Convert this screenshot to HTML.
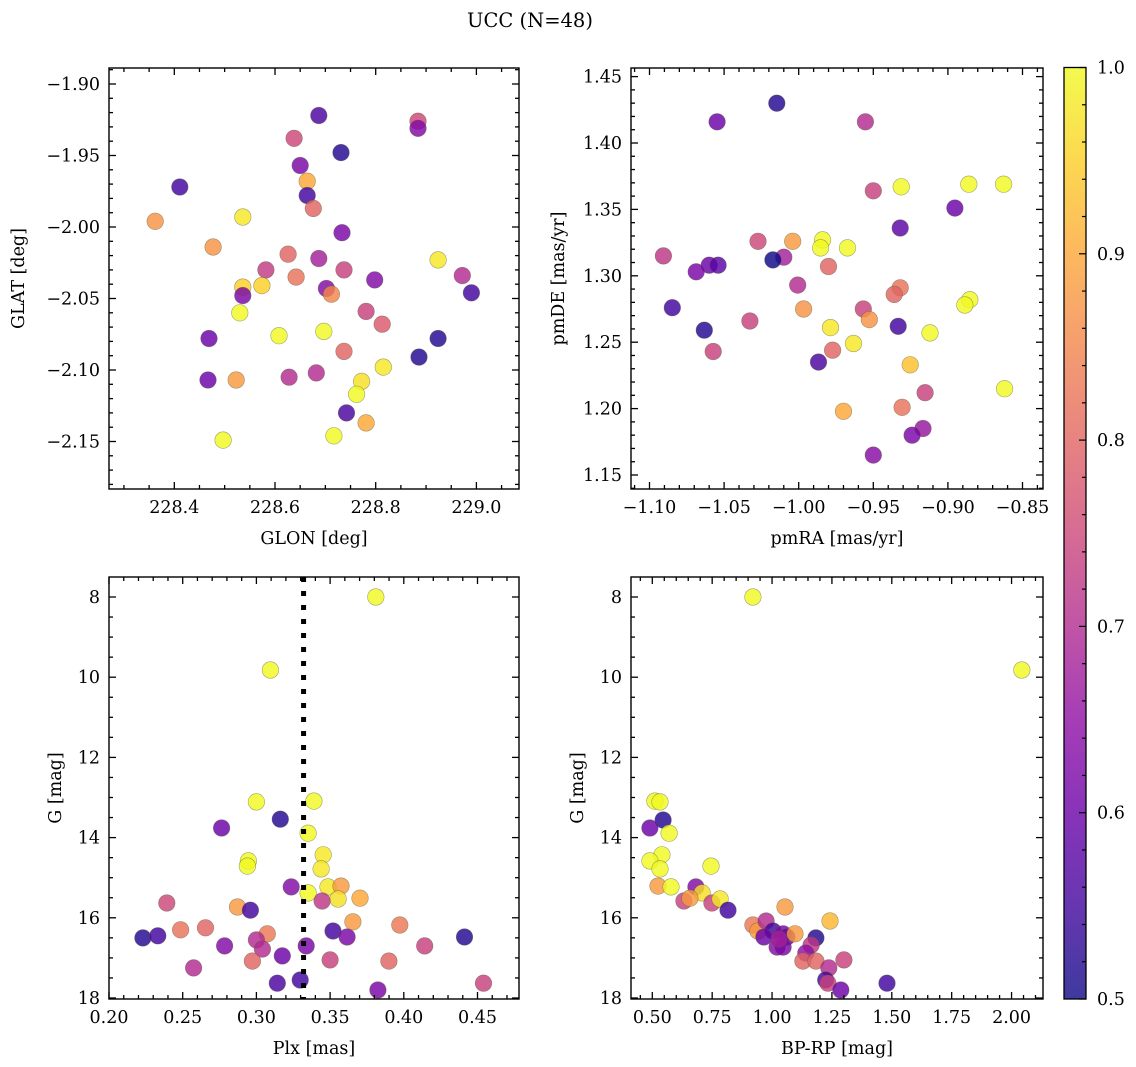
<!DOCTYPE html>
<html><head><meta charset="utf-8"><title>UCC (N=48)</title>
<style>
html,body{margin:0;padding:0;background:#fff;}
svg{display:block;font-family:"DejaVu Serif","Liberation Serif",serif;}
</style></head>
<body>
<svg id="fig" width="1136" height="1067" viewBox="0 0 1136 1067" xmlns="http://www.w3.org/2000/svg">
<defs>
<linearGradient id="cbgrad" x1="0" y1="1" x2="0" y2="0">
<stop offset="0" stop-color="#0d0887"/><stop offset="0.1" stop-color="#41049d"/><stop offset="0.2" stop-color="#6a00a8"/><stop offset="0.3" stop-color="#8f0da4"/><stop offset="0.4" stop-color="#b12a90"/><stop offset="0.5" stop-color="#cc4778"/><stop offset="0.6" stop-color="#e16462"/><stop offset="0.7" stop-color="#f2844b"/><stop offset="0.8" stop-color="#fca636"/><stop offset="0.9" stop-color="#fcce25"/><stop offset="1" stop-color="#f0f921"/>
</linearGradient>
</defs>
<text x="530" y="27" text-anchor="middle" font-size="19.5">UCC (N=48)</text>
</svg>
<script>
// ---- Panel 1: GLON vs GLAT ----
const p1x=[228.362,228.411,228.477,228.536,228.638,228.650,228.664,228.664,228.676,228.687,228.731,228.884,228.884,228.733,228.626,228.582,228.687,228.642,228.737,228.798,228.924,228.972,228.990,228.536,228.574,228.536,228.702,228.712,228.530,228.608,228.697,228.781,228.813,228.469,228.737,228.924,228.886,228.815,228.467,228.523,228.628,228.682,228.772,228.762,228.742,228.781,228.497,228.717];
const p1y=[-1.996,-1.972,-2.014,-1.993,-1.938,-1.957,-1.968,-1.978,-1.987,-1.922,-1.948,-1.926,-1.931,-2.004,-2.019,-2.030,-2.022,-2.035,-2.030,-2.037,-2.023,-2.034,-2.046,-2.042,-2.041,-2.048,-2.043,-2.047,-2.060,-2.076,-2.073,-2.059,-2.068,-2.078,-2.087,-2.078,-2.091,-2.098,-2.107,-2.107,-2.105,-2.102,-2.108,-2.117,-2.130,-2.137,-2.149,-2.146];
const p1c=[0.87,0.55,0.87,0.98,0.75,0.62,0.9,0.55,0.8,0.56,0.52,0.75,0.63,0.62,0.8,0.73,0.68,0.82,0.74,0.63,0.98,0.7,0.55,0.95,0.95,0.62,0.63,0.85,1.0,1.0,1.0,0.74,0.78,0.6,0.8,0.52,0.52,0.98,0.6,0.88,0.7,0.7,0.97,1.0,0.56,0.9,1.0,1.0];
// ---- Panel 2: pmRA vs pmDE ----
const p2x=[-1.0147,-1.0547,-0.9553,-0.950,-0.9313,-0.886,-0.8627,-0.8953,-0.932,-1.0273,-1.004,-0.984,-0.9853,-0.9673,-1.0907,-1.010,-1.0173,-1.060,-1.054,-1.0687,-0.980,-1.0007,-0.932,-0.936,-0.8853,-0.8887,-1.0847,-0.9967,-0.9567,-0.9527,-1.0327,-0.9787,-0.9333,-1.0633,-0.912,-0.9633,-0.9773,-1.0573,-0.9867,-0.9253,-0.862,-0.9153,-0.970,-0.9307,-0.9167,-0.924,-0.950];
const p2y=[1.430,1.416,1.416,1.364,1.367,1.369,1.369,1.351,1.336,1.326,1.326,1.327,1.321,1.321,1.315,1.314,1.312,1.308,1.308,1.303,1.307,1.293,1.291,1.286,1.282,1.278,1.276,1.275,1.275,1.267,1.266,1.261,1.262,1.259,1.257,1.249,1.244,1.243,1.235,1.233,1.215,1.212,1.198,1.201,1.185,1.180,1.165];
const p2c=[0.52,0.6,0.7,0.74,1.0,1.0,1.0,0.6,0.58,0.75,0.88,1.0,1.0,1.0,0.72,0.68,0.5,0.6,0.58,0.62,0.8,0.7,0.82,0.8,1.0,1.0,0.55,0.87,0.74,0.87,0.74,0.98,0.55,0.52,1.0,0.98,0.8,0.74,0.56,0.93,1.0,0.74,0.9,0.82,0.66,0.62,0.64];
// ---- Panel 3: Plx vs G ----
const p3x=[0.381,0.3095,0.300,0.339,0.3162,0.2764,0.3351,0.3453,0.2946,0.2939,0.3439,0.3236,0.3486,0.3574,0.3351,0.3554,0.3703,0.3446,0.2392,0.2872,0.2959,0.3655,0.3973,0.223,0.2331,0.2486,0.2655,0.3074,0.300,0.3041,0.2784,0.352,0.3615,0.3338,0.4142,0.4412,0.3176,0.350,0.3899,0.2973,0.2574,0.3142,0.3297,0.3824,0.4541];
const p3y=[8.0,9.82,13.11,13.09,13.54,13.76,13.89,14.43,14.58,14.71,14.78,15.23,15.23,15.21,15.38,15.53,15.51,15.58,15.63,15.73,15.81,16.10,16.18,16.50,16.45,16.30,16.25,16.40,16.55,16.78,16.70,16.33,16.48,16.70,16.70,16.48,16.95,17.05,17.08,17.08,17.25,17.63,17.55,17.80,17.63];
const p3c=[1.0,1.0,1.0,1.0,0.52,0.6,1.0,0.98,1.0,1.0,0.98,0.63,0.98,0.88,1.0,0.97,0.9,0.72,0.75,0.88,0.55,0.88,0.83,0.52,0.55,0.82,0.8,0.83,0.7,0.7,0.63,0.55,0.62,0.62,0.74,0.52,0.6,0.74,0.8,0.8,0.7,0.56,0.55,0.62,0.74];
const plxMean=[0.332];
// ---- Panel 4: BP-RP vs G ----
const p4x=[0.920,2.043,0.511,0.532,0.545,0.490,0.570,0.540,0.490,0.532,0.745,0.524,0.578,0.682,0.708,0.632,0.657,0.749,0.783,0.816,1.054,1.242,0.920,0.941,0.975,1.004,0.966,1.046,1.062,1.096,1.021,1.046,1.029,1.183,1.163,1.141,1.129,1.183,1.300,1.237,1.224,1.233,1.287,1.480];
const p4y=[8.0,9.82,13.09,13.11,13.56,13.76,13.89,14.43,14.58,14.78,14.71,15.21,15.23,15.23,15.38,15.58,15.51,15.63,15.53,15.81,15.73,16.08,16.18,16.33,16.08,16.33,16.48,16.40,16.48,16.40,16.73,16.73,16.53,16.50,16.68,16.88,17.08,17.08,17.05,17.25,17.55,17.63,17.80,17.63];
const p4c=[1.0,1.0,1.0,1.0,0.52,0.6,1.0,1.0,1.0,1.0,1.0,0.88,1.0,0.63,0.97,0.74,0.88,0.74,0.98,0.55,0.88,0.92,0.83,0.88,0.7,0.55,0.6,0.62,0.6,0.88,0.63,0.62,0.68,0.52,0.72,0.65,0.8,0.8,0.74,0.7,0.55,0.74,0.6,0.55];
// ---- Colorbar ----
const cbTicks=[0.5,0.6,0.7,0.8,0.9,1.0];
const cbLabels=["0.5","0.6","0.7","0.8","0.9","1.0"];

const NS="http://www.w3.org/2000/svg";
const svg=document.getElementById('fig');
const FS=17.5;
function mk(tag,attrs,parent){const e=document.createElementNS(NS,tag);for(const k in attrs)e.setAttribute(k,attrs[k]);(parent||svg).appendChild(e);return e;}
const stops=[[13,8,135],[65,4,157],[106,0,168],[143,13,164],[177,42,144],[204,71,120],[225,100,98],[242,132,75],[252,166,54],[252,206,37],[240,249,33]];
function plasma(v){let t=Math.max(0,Math.min(1,(v-0.5)/0.5))*10;const i=Math.min(9,Math.floor(t));const f=t-i;const a=stops[i],b=stops[i+1];return 'rgb('+[0,1,2].map(k=>Math.round(a[k]+(b[k]-a[k])*f)).join(',')+')';}
function fmt(v,d){const s=Math.abs(v).toFixed(d);return (v<-1e-9?'\u2212':'')+s;}

function panel(cfg){
  const g=mk('g',{});
  
  
  const X=v=>cfg.x0px+(v-cfg.x0)*cfg.xs;
  const Y=v=>cfg.y0px+(v-cfg.y0)*cfg.ys;
  const L=cfg.L,R=cfg.R,T=cfg.T,B=cfg.B;
  const xmin=cfg.x0+(L-cfg.x0px)/cfg.xs,xmax=cfg.x0+(R-cfg.x0px)/cfg.xs;
  const ya=cfg.y0+(T-cfg.y0px)/cfg.ys,yb=cfg.y0+(B-cfg.y0px)/cfg.ys;
  const ymin=Math.min(ya,yb),ymax=Math.max(ya,yb);
  const pg=mk('g',{},g);
  
  
  for(let i=0;i<cfg.xd.length;i++){
    const c=mk('circle',{cx:X(cfg.xd[i]).toFixed(1),cy:Y(cfg.yd[i]).toFixed(1),r:8.3,fill:plasma(cfg.cd[i]),'fill-opacity':0.82,stroke:'rgba(90,90,60,0.55)','stroke-width':0.6},pg);
    
    
  }
  if(cfg.vline!==undefined){
    const l=mk('line',{x1:X(cfg.vline),x2:X(cfg.vline),y1:T,y2:B,stroke:'#000','stroke-width':5,'stroke-dasharray':'5 9'},g);
    
    
  }
  const fr=mk('rect',{x:L,y:T,width:R-L,height:B-T,fill:'none',stroke:'#000','stroke-width':1.4},g);
  
  
  const eps=1e-9;
  const xs0=Math.ceil((xmin-eps)/cfg.xminor)*cfg.xminor;
  for(let v=xs0;v<=xmax+eps;v+=cfg.xminor){
    const px=X(v);
    const isMaj=Math.abs(v/cfg.xmajor-Math.round(v/cfg.xmajor))<1e-6;
    const len=isMaj?7:4;
    mk('line',{x1:px,x2:px,y1:B,y2:B-len,stroke:'#000','stroke-width':1.3},g);
    mk('line',{x1:px,x2:px,y1:T,y2:T+len,stroke:'#000','stroke-width':1.3},g);
    if(isMaj){
      const t=mk('text',{x:px,y:B+24,'text-anchor':'middle','font-size':FS},g);
      t.textContent=fmt(v,cfg.xdec);
      
      
    }
  }
  const ys0=Math.ceil((ymin-eps)/cfg.yminor)*cfg.yminor;
  for(let v=ys0;v<=ymax+eps;v+=cfg.yminor){
    const py=Y(v);
    const isMaj=Math.abs(v/cfg.ymajor-Math.round(v/cfg.ymajor))<1e-6;
    const len=isMaj?7:4;
    mk('line',{x1:L,x2:L+len,y1:py,y2:py,stroke:'#000','stroke-width':1.3},g);
    mk('line',{x1:R,x2:R-len,y1:py,y2:py,stroke:'#000','stroke-width':1.3},g);
    if(isMaj){
      const t=mk('text',{x:L-9,y:py+6,'text-anchor':'end','font-size':FS},g);
      t.textContent=fmt(v,cfg.ydec);
      
      
    }
  }
  const xl=mk('text',{x:(L+R)/2,y:B+55,'text-anchor':'middle','font-size':FS},g);
  xl.textContent=cfg.xlabel;
  
  
  const yl=mk('text',{x:0,y:0,'text-anchor':'middle','font-size':FS,transform:'translate('+cfg.ylx+','+(T+B)/2+') rotate(-90)'},g);
  yl.textContent=cfg.ylabel;
  
  
}

panel({name:'glon-glat-panel',L:109,R:519,T:68,B:489,x0:228.4,x0px:174.3,xs:503.5,y0:-1.90,y0px:84,ys:-1430,xmajor:0.2,xminor:0.05,ymajor:0.05,yminor:0.01,xdec:1,ydec:2,xd:p1x,yd:p1y,cd:p1c,xlabel:'GLON [deg]',ylabel:'GLAT [deg]',ylx:24});
panel({name:'pm-panel',L:631,R:1043,T:68,B:489,x0:-1.10,x0px:649.5,xs:1492,y0:1.45,y0px:76.6,ys:-1328,xmajor:0.05,xminor:0.01,ymajor:0.05,yminor:0.01,xdec:2,ydec:2,xd:p2x,yd:p2y,cd:p2c,xlabel:'pmRA [mas/yr]',ylabel:'pmDE [mas/yr]',ylx:564});
panel({name:'plx-g-panel',L:109,R:519,T:577,B:999,x0:0.20,x0px:109,xs:1474,y0:8,y0px:597,ys:40.1,xmajor:0.05,xminor:0.01,ymajor:2,yminor:0.5,xdec:2,ydec:0,xd:p3x,yd:p3y,cd:p3c,xlabel:'Plx [mas]',ylabel:'G [mag]',ylx:61,vline:plxMean[0]});
panel({name:'cmd-panel',L:631,R:1043,T:577,B:999,x0:0.50,x0px:652.3,xs:239.5,y0:8,y0px:597,ys:40.1,xmajor:0.25,xminor:0.05,ymajor:2,yminor:0.5,xdec:2,ydec:0,xd:p4x,yd:p4y,cd:p4c,xlabel:'BP-RP [mag]',ylabel:'G [mag]',ylx:583});

(function(){
  const g=mk('g',{});
  
  
  const L=1064,R=1086,T=67.5,B=999;
  const CY=v=>B-(v-0.5)/0.5*(B-T);
  const r=mk('rect',{x:L,y:T,width:R-L,height:B-T,fill:'url(#cbgrad)','fill-opacity':0.8},g);
  
  
  mk('rect',{x:L,y:T,width:R-L,height:B-T,fill:'none',stroke:'#000','stroke-width':1.3},g);
  for(let k=0;k<=25;k++){
    const v=0.5+k*0.02;const py=CY(v);
    const maj=(k%5===0);
    mk('line',{x1:R,x2:R-(maj?7:4),y1:py,y2:py,stroke:'#000','stroke-width':1.2},g);
  }
  cbTicks.forEach((v,i)=>{
    const t=mk('text',{x:1097,y:CY(v)+6,'font-size':FS},g);
    t.textContent=cbLabels[i];
    
    
  });
})();
</script>
</body></html>
